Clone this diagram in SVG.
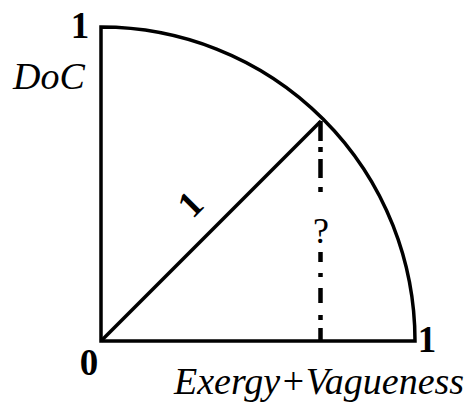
<svg xmlns="http://www.w3.org/2000/svg" width="468" height="403" viewBox="0 0 468 403">
<style>
.ln{fill:none;stroke:#000;stroke-width:3.5}
.dd{fill:none;stroke:#000;stroke-width:4.5}
.b{font-family:"Liberation Serif",serif;font-weight:bold;font-size:37px;fill:#000}
.i{font-family:"Liberation Serif",serif;font-style:italic;font-size:38px;fill:#000}
.r{font-family:"Liberation Serif",serif;font-size:36px;fill:#000}
</style>
<rect width="468" height="403" fill="#fff"/>
<g id="quarter">
<path class="ln" d="M101,341 L101,27 A314,314 0 0 1 415,341 Z"/>
</g>
<g id="connectors">
<line class="ln" x1="101" y1="341" x2="321" y2="121"/>
<path class="dd" d="M320.5,121V141 M320.5,147V152 M320.5,159V178 M320.5,187V192 M320.5,252V262 M320.5,273V277 M320.5,288V303 M320.5,315V320 M320.5,328V341"/>
</g>
<g id="labels">
<text class="b" x="80" y="38" text-anchor="middle">1</text>
<text class="i" x="13" y="89">DoC</text>
<text class="b" x="89" y="375" text-anchor="middle">0</text>
<text class="b" x="427" y="352" text-anchor="middle">1</text>
<text class="i" x="174" y="394">Exergy+Vagueness</text>
<text class="b" x="0" y="0" text-anchor="middle" transform="translate(199,213) rotate(-45)">1</text>
<text class="r" x="321" y="243" text-anchor="middle">?</text>
</g>
</svg>
